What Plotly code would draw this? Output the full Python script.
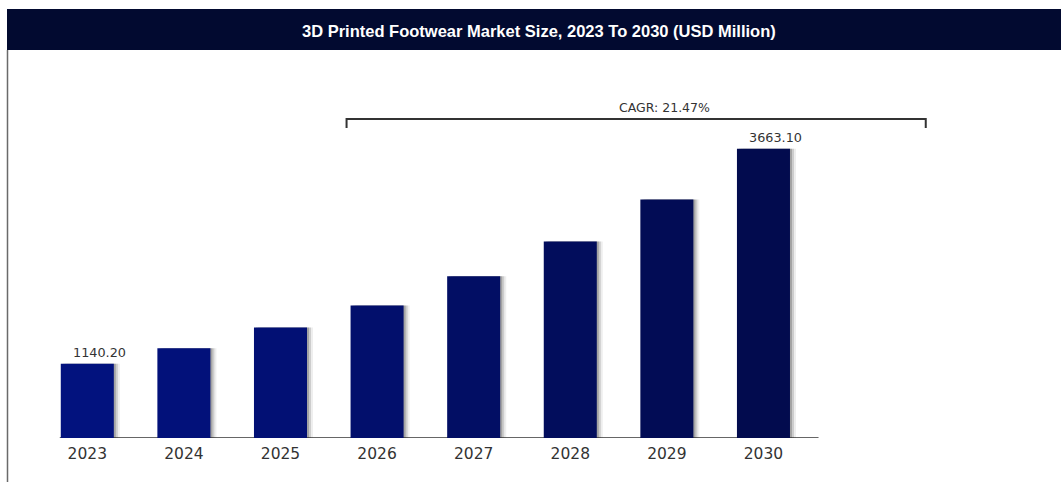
import plotly.graph_objects as go

years = ["2023", "2024", "2025", "2026", "2027", "2028", "2029", "2030"]
values = [1140.2, 1323, 1566, 1824, 2168, 2575, 3068, 3663.1]
labels = {"2023": "1140.20", "2030": "3663.10"}
bar_colors = ["#02127e", "#02117a", "#021074", "#020f6c", "#020e64", "#020d5c", "#020c55", "#020b4e"]
cagr_text = "CAGR: 21.47%"
title = "3D Printed Footwear Market Size, 2023 To 2030 (USD Million)"

W, H = 1061, 482
ML, MR, MT, MB = 39, 114, 60, 44
PW, PH = W - ML - MR, H - MT - MB
Y0, Y1 = 269.5, 269.5 + PH / 0.08522
X0, X1 = -0.5, 8.9

def px_to_y(p):
    return Y0 + (H - MB - p) / PH * (Y1 - Y0)

def px_to_xp(p):
    return (p - ML) / PW

def px_to_yp(p):
    return (H - MB - p) / PH

unit = PW / (X1 - X0)
bw = 0.549
xs = list(range(len(years)))

fig = go.Figure()
for dx, op in [(6, 0.08), (4, 0.16), (2, 0.25)]:
    fig.add_trace(go.Bar(
        x=xs, y=values, width=bw, offset=-bw / 2 + dx / unit,
        marker=dict(color=f"rgba(40,40,40,{op})", line=dict(width=0)),
        hoverinfo="skip", showlegend=False))
fig.add_trace(go.Bar(
    x=xs, y=values, width=bw, offset=-bw / 2,
    marker=dict(color=bar_colors, line=dict(width=0)),
    hoverinfo="skip", showlegend=False))

annotations = []
for i, yr in enumerate(years):
    if yr in labels:
        annotations.append(dict(x=i, y=values[i], xref="x", yref="y", text=labels[yr],
                                showarrow=False, yanchor="bottom", xshift=12, yshift=2,
                                font=dict(family="DejaVu Sans", size=12.8, color="#333")))

# CAGR bracket spanning from 2026 to beyond 2030
bx0 = years.index("2026") - 0.316
bx1 = years.index("2030") + 1.68
by = px_to_y(119)
byt = px_to_y(128)
shapes = [
    dict(type="rect", xref="paper", yref="paper", x0=px_to_xp(7), x1=px_to_xp(W + 2),
         y0=px_to_yp(50), y1=px_to_yp(9), fillcolor="#020a30", line=dict(width=0), layer="below"),
    dict(type="line", xref="paper", yref="paper", x0=px_to_xp(7.5), x1=px_to_xp(7.5),
         y0=px_to_yp(50), y1=px_to_yp(H + 2), line=dict(color="#6a6a6a", width=1.5)),
    dict(type="line", xref="x", yref="y", x0=-0.285, x1=7.57, y0=Y0, y1=Y0,
         line=dict(color="#333", width=1.5), layer="below"),
    dict(type="path", xref="x", yref="y",
         path=f"M {bx0} {byt} L {bx0} {by} L {bx1} {by} L {bx1} {byt}",
         line=dict(color="#333", width=2)),
]
annotations.append(dict(x=(bx0 + bx1) / 2, y=by, xref="x", yref="y", text=cagr_text,
                        showarrow=False, yanchor="bottom", xshift=28, yshift=2,
                        font=dict(family="DejaVu Sans", size=12.5, color="#333")))
annotations.append(dict(x=px_to_xp(539), y=px_to_yp(31), xref="paper", yref="paper",
                        text="<b>" + title + "</b>", xanchor="center", yanchor="middle",
                        showarrow=False, font=dict(family="Liberation Sans Narrow, Arial Narrow, Liberation Sans, sans-serif",
                                                    size=16.5, color="white")))

fig.update_layout(
    width=W, height=H, margin=dict(l=ML, r=MR, t=MT, b=MB),
    barmode="overlay", plot_bgcolor="white", paper_bgcolor="white",
    shapes=shapes, annotations=annotations,
    xaxis=dict(range=[X0, X1], tickmode="array", tickvals=xs, ticktext=years,
               showgrid=False, zeroline=False, showline=False, ticks="",
               ticklabelstandoff=4,
               tickfont=dict(family="DejaVu Sans", size=15.5, color="#333")),
    yaxis=dict(range=[Y0, Y1], visible=False, showgrid=False, zeroline=False),
)
fig.write_html("out.html")
